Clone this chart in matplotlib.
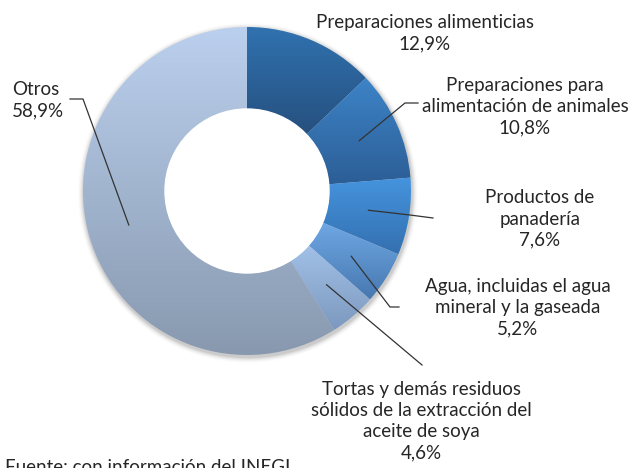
import numpy as np
import matplotlib.pyplot as plt
from matplotlib.colors import LinearSegmentedColormap

# Data
categorias = [
    'Preparaciones alimenticias',
    'Preparaciones para\nalimentación de animales',
    'Productos de\npanadería',
    'Agua, incluidas el agua\nmineral y la gaseada',
    'Tortas y demás residuos\nsólidos de la extracción del\naceite de soya',
    'Otros',
]
valores = [12.9, 10.8, 7.6, 5.2, 4.6, 58.9]
etiquetas_pct = ['12,9%', '10,8%', '7,6%', '5,2%', '4,6%', '58,9%']

# gradient colours (top, bottom) per slice
grad_colors = [
    ('#3072B0', '#26507F'),
    ('#3D84C8', '#2C5E96'),
    ('#4594DE', '#3470B0'),
    ('#6FA8E4', '#4778B0'),
    ('#A2C1E8', '#7C98BE'),
    ('#BBD0EE', '#8899AF'),
]

plt.rcParams['font.family'] = ['Lato', 'DejaVu Sans']

W, H = 639, 468
CX, CY, R = 247, 191, 164

fig = plt.figure(figsize=(W / 100, H / 100), dpi=100)
ax = fig.add_axes([0, 0, 1, 1])
ax.axis('off')


def px(x, y):
    # pixel position -> data coords (pie centre at origin, radius 1)
    return (x - CX) / R, (CY - y) / R


# soft shadow
for i, a in enumerate(np.linspace(0.06, 0.01, 6)):
    ax.add_patch(plt.Circle((0.005, -0.012), 1 + 0.006 * (i + 1), color='k', alpha=a, lw=0, zorder=0))

wedges, _ = ax.pie(valores, startangle=90, counterclock=False, radius=1,
                   wedgeprops=dict(width=0.5, edgecolor='none', facecolor='none'))

grad = np.linspace(0, 1, 256).reshape(-1, 1)
for w, (c_top, c_bot) in zip(wedges, grad_colors):
    ext = w.get_path().get_extents()
    cmap = LinearSegmentedColormap.from_list('g', [c_top, c_bot])
    im = ax.imshow(grad, cmap=cmap, extent=[ext.x0, ext.x1, ext.y0, ext.y1],
                   aspect='auto', interpolation='bilinear', zorder=2)
    im.set_clip_path(w)

ax.add_patch(plt.Circle((0, 0), 0.5, color='white', zorder=3))

# labels: (text x, text y-centre in px, elbow points in px)
txt_color = '#262626'
fs = 13.5
label_pos = [(425, 33), (525, 107), (540, 219), (518, 308), (421, 421), (12, 100)]
leaders = [
    None,
    [(405, 103), (418, 103)],
    [(410, 215), (433, 218)],
    [(390, 307), (399, 307)],
    [(422, 365)],
    [(83, 99), (70, 99)],
]

ang = 90.0
for i, (w, v) in enumerate(zip(wedges, valores)):
    mid = np.deg2rad(ang - v * 3.6 / 2)
    ang -= v * 3.6
    x, y = px(*label_pos[i])
    texto = categorias[i] + '\n' + etiquetas_pct[i]
    if i == 5:
        ax.text(x, y, texto, ha='left', va='center', fontsize=fs, color=txt_color,
                linespacing=1.3, zorder=5)
    else:
        ax.text(x, y, texto, ha='center', va='center', fontsize=fs, color=txt_color,
                linespacing=1.3, zorder=5)
    if leaders[i] is not None:
        pts = [(0.75 * np.cos(mid), 0.75 * np.sin(mid))] + [px(*p) for p in leaders[i]]
        xs, ys = zip(*pts)
        ax.plot(xs, ys, color='#333333', lw=0.9, zorder=4)

fx, fy = px(5, 459)
ax.text(fx, fy, 'Fuente: con información del INEGI', ha='left', va='top',
        fontsize=fs, color=txt_color, zorder=5)

ax.set_xlim(-CX / R, (W - CX) / R)
ax.set_ylim((CY - H) / R, CY / R)
ax.set_aspect('equal')

fig.savefig('out.png', dpi=100)
